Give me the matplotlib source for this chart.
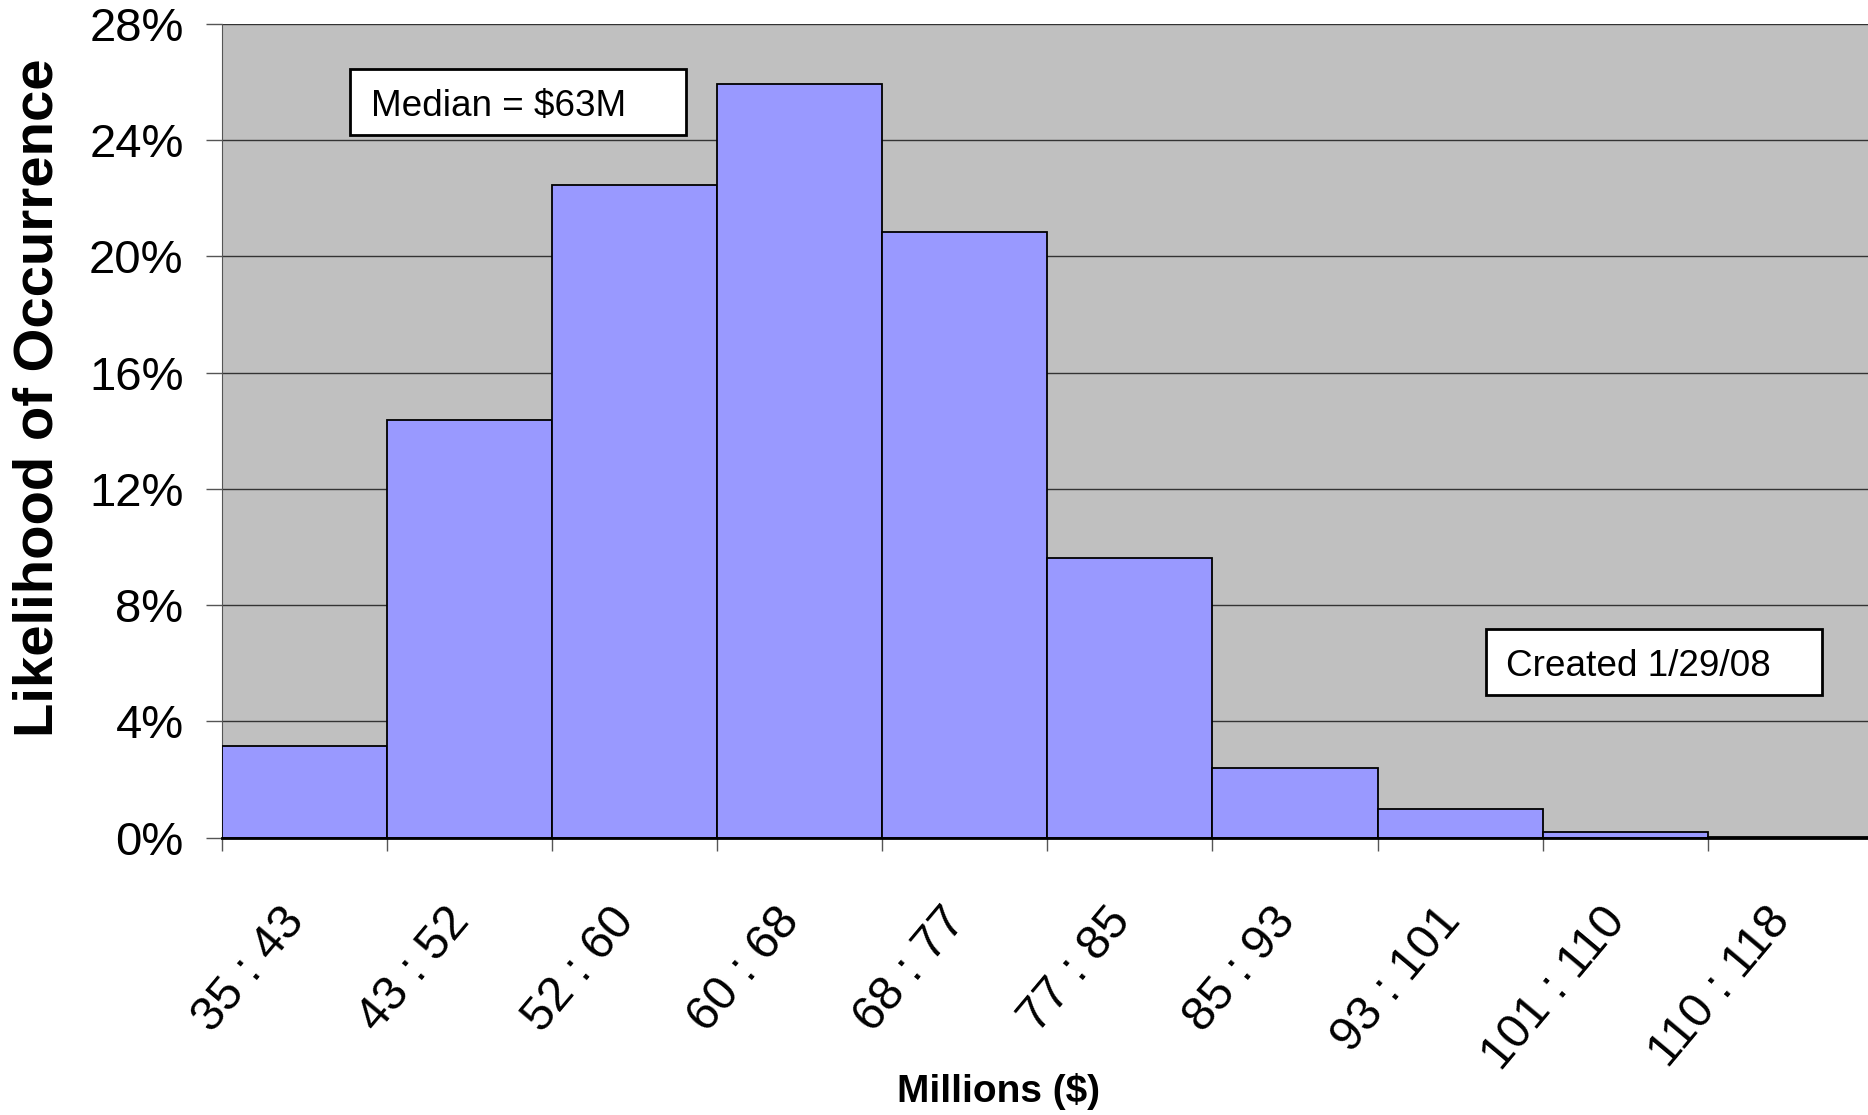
import matplotlib
matplotlib.use("Agg")
import matplotlib.pyplot as plt
from matplotlib.patches import Rectangle
from matplotlib.ticker import FixedLocator, FuncFormatter
from matplotlib.transforms import ScaledTranslation

plt.rcParams['font.family'] = ['Liberation Sans', 'DejaVu Sans']

bins = ["35 : 43", "43 : 52", "52 : 60", "60 : 68", "68 : 77",
        "77 : 85", "85 : 93", "93 : 101", "101 : 110", "110 : 118"]
likelihood = [3.17, 14.37, 22.47, 25.94, 20.83, 9.62, 2.39, 0.98, 0.19, 0.04]
y_ticks = [0, 4, 8, 12, 16, 20, 24, 28]
median_text = "Median = $63M"
created_text = "Created 1/29/08"

W, H = 1868, 1115
fig = plt.figure(figsize=(W / 100, H / 100), dpi=100)
ax = fig.add_axes([221.7 / W, 1 - 837.7 / H, (1873 - 221.7) / W, (837.7 - 24) / H])
ax.set_facecolor('#C0C0C0')

n = len(bins)
ax.bar(range(n), likelihood, width=1.0, align='edge', color='#9999FF',
       edgecolor='black', linewidth=1.3, zorder=3)

ax.set_xlim(0, n)
ax.set_ylim(0, 28)
ax.yaxis.set_major_locator(FixedLocator(y_ticks))
ax.yaxis.set_major_formatter(FuncFormatter(lambda v, p: f"{int(v)}%"))
ax.grid(axis='y', color='#333333', linewidth=1.0, zorder=1)
ax.set_axisbelow(True)

ax.set_xticks([i + 0.5 for i in range(n)])
ax.set_xticklabels(bins, rotation=50, ha='right', va='top', rotation_mode='anchor')
ax.set_xticks(list(range(n + 1)), minor=True)
ax.tick_params(axis='x', which='major', length=0, pad=48, labelsize=34.5)
ax.tick_params(axis='x', which='minor', length=9, width=1.0, color='#555555')
ax.tick_params(axis='y', which='major', length=11.5, width=1.0, color='#555555',
               pad=16, labelsize=34)

shift = ScaledTranslation(-25 / 100, 5 / 100, fig.dpi_scale_trans)
for lab in ax.get_xticklabels():
    lab.set_transform(lab.get_transform() + shift)

for s in ['top', 'right']:
    ax.spines[s].set_visible(False)
ax.spines['left'].set_color('#555555')
ax.spines['bottom'].set_color('black')
ax.spines['bottom'].set_linewidth(2.0)
ax.spines['bottom'].set_zorder(4)

fig.text(39 / W, 1 - 398 / H, "Likelihood of Occurrence", rotation=90,
         ha='center', va='center', fontsize=40.5, fontweight='bold')
fig.text(998 / W, 1 - 1092 / H, "Millions ($)", ha='center', va='center',
         fontsize=28, fontweight='bold')

# annotation boxes
for (x0, y0, x1, y1, tx, txt) in [
    (350, 69, 686, 135, 371, median_text),
    (1486, 629, 1822, 695, 1506, created_text),
]:
    fig.patches.append(Rectangle((x0 / W, 1 - y1 / H), (x1 - x0) / W, (y1 - y0) / H,
                                 transform=fig.transFigure, facecolor='white',
                                 edgecolor='black', linewidth=2.0, zorder=5))
    fig.text(tx / W, 1 - ((y0 + y1) / 2 + 4) / H, txt, ha='left', va='center',
             fontsize=26.6, zorder=6)

fig.savefig("out.png", dpi=100)
